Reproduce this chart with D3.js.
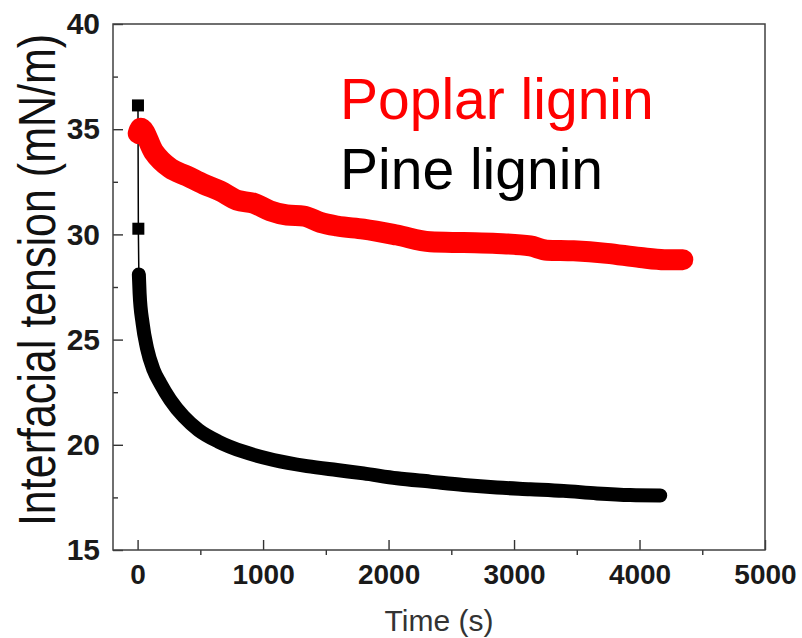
<!DOCTYPE html>
<html>
<head>
<meta charset="utf-8">
<script src="https://cdn.jsdelivr.net/npm/d3@7"></script>
<style>
  html, body { margin: 0; padding: 0; background: #fff; }
  svg { display: block; }
  .axis text { font-family: "Liberation Sans", Arial, sans-serif; font-weight: bold; fill: #1a1a1a; }
  .axis line { stroke: #333; stroke-width: 1.4; }
</style>
</head>
<body>
<svg id="chart" width="802" height="638"></svg>
<script>
// Interfacial tension vs time, two lignin samples
const poplarTime  = [5, 25, 128, 261, 394, 526, 659, 792, 925, 1057, 1190, 1325, 1456, 1589, 1801, 2067, 2332, 2598, 2864, 3129, 3262, 3474, 3740, 4006, 4200, 4345];
const poplarValue = [34.8, 35.05, 33.93, 33.14, 32.78, 32.39, 32.06, 31.63, 31.48, 31.12, 30.92, 30.87, 30.57, 30.40, 30.25, 29.97, 29.65, 29.61, 29.57, 29.45, 29.25, 29.22, 29.10, 28.90, 28.80, 28.80];

const pineTime  = [3, 6, 10, 16, 40, 75, 127, 181, 261, 367, 486, 645, 845, 1084, 1350, 1589, 1801, 2067, 2332, 2598, 2864, 3129, 3394, 3661, 3926, 4165];
const pineValue = [36.13, 30.27, 28.1, 27.2, 25.77, 24.59, 23.56, 22.92, 22.13, 21.34, 20.70, 20.15, 19.67, 19.28, 18.99, 18.80, 18.64, 18.41, 18.25, 18.09, 17.97, 17.89, 17.81, 17.69, 17.61, 17.59];
// the first two pine readings stand apart before the dense run begins
const pineDenseFrom = 2;

const xMajor = [0, 1000, 2000, 3000, 4000, 5000];
const xMinor = [500, 1500, 2500, 3500, 4500];
const yMajor = [15, 20, 25, 30, 35, 40];
const yMinor = [17.5, 22.5, 27.5, 32.5, 37.5];

const seriesNames = ["Poplar lignin", "Pine lignin"];
const seriesColors = ["#ff0000", "#000000"];

const svg = d3.select("#chart");
const plotLeft = 113, plotRight = 765, plotTop = 24, plotBottom = 550;

const x = d3.scaleLinear().domain([-200, 5000]).range([plotLeft - 0.5, plotRight]);
const y = d3.scaleLinear().domain([15, 40]).range([plotBottom, plotTop]);

const pine = pineTime.map((t, i) => ({ t, v: pineValue[i] }));
const poplar = poplarTime.map((t, i) => ({ t, v: poplarValue[i] }));

const line = d3.line().x(d => x(d.t)).y(d => y(d.v)).curve(d3.curveMonotoneX);
const thin = d3.line().x(d => x(d.t)).y(d => y(d.v));

const plot = svg.append("g");

// Pine: thin connecting line, isolated square markers, dense band
plot.append("path")
  .attr("d", thin(pine))
  .attr("fill", "none")
  .attr("stroke", seriesColors[1])
  .attr("stroke-width", 1.5);

plot.selectAll("rect.pine-pt")
  .data(pine.slice(0, pineDenseFrom))
  .join("rect")
  .attr("class", "pine-pt")
  .attr("x", d => x(d.t) - 6)
  .attr("y", d => y(d.v) - 6)
  .attr("width", 12)
  .attr("height", 12)
  .attr("fill", seriesColors[1]);

plot.append("path")
  .attr("d", line(pine.slice(pineDenseFrom)))
  .attr("fill", "none")
  .attr("stroke", seriesColors[1])
  .attr("stroke-width", 14)
  .attr("stroke-linejoin", "round")
  .attr("stroke-linecap", "round");

// Poplar: dense band
plot.append("path")
  .attr("d", line(poplar))
  .attr("fill", "none")
  .attr("stroke", seriesColors[0])
  .attr("stroke-width", 21)
  .attr("stroke-linejoin", "round")
  .attr("stroke-linecap", "round");

// Axes: major ticks point inward, x minor ticks point outward
const gx = svg.append("g").attr("class", "axis").attr("transform", `translate(0,${plotBottom})`);
gx.call(d3.axisBottom(x).tickValues(xMajor).tickSizeInner(-10).tickSizeOuter(0).tickPadding(14).tickFormat(d3.format("d")));
gx.select(".domain").remove();
gx.selectAll("text").attr("font-size", 28);

const gxm = svg.append("g").attr("class", "axis").attr("transform", `translate(0,${plotBottom})`);
gxm.call(d3.axisBottom(x).tickValues(xMinor).tickSizeInner(5).tickSizeOuter(0).tickFormat(""));
gxm.select(".domain").remove();

const gy = svg.append("g").attr("class", "axis").attr("transform", `translate(${plotLeft},0)`);
gy.call(d3.axisLeft(y).tickValues(yMajor).tickSizeInner(-10).tickSizeOuter(0).tickPadding(13).tickFormat(d3.format("d")));
gy.select(".domain").remove();
gy.selectAll("text").attr("font-size", 30);

const gym = svg.append("g").attr("class", "axis").attr("transform", `translate(${plotLeft},0)`);
gym.call(d3.axisLeft(y).tickValues(yMinor).tickSizeInner(-5).tickSizeOuter(0).tickFormat(""));
gym.select(".domain").remove();

// Frame
svg.append("rect")
  .attr("x", plotLeft).attr("y", plotTop)
  .attr("width", plotRight - plotLeft).attr("height", plotBottom - plotTop)
  .attr("fill", "none").attr("stroke", "#404040").attr("stroke-width", 1.5);

// Axis titles
svg.append("text")
  .attr("x", (plotLeft + plotRight) / 2).attr("y", 631)
  .attr("text-anchor", "middle")
  .attr("font-family", "Liberation Sans, Arial, sans-serif")
  .attr("font-size", 30)
  .attr("fill", "#333")
  .text("Time (s)");

svg.append("text")
  .attr("transform", `translate(55,${(plotTop + plotBottom) / 2 - 7}) rotate(-90) scale(1,1.22)`)
  .attr("text-anchor", "middle")
  .attr("font-family", "Liberation Sans, Arial, sans-serif")
  .attr("font-size", 43)
  .attr("fill", "#111")
  .text("Interfacial tension (mN/m)");

// Legend labels
const legendY = [119, 189];
seriesNames.forEach((name, i) => {
  svg.append("text")
    .attr("x", 340).attr("y", legendY[i])
    .attr("font-family", "Liberation Sans, Arial, sans-serif")
    .attr("font-size", 57)
    .attr("fill", seriesColors[i])
    .text(name);
});
</script>
</body>
</html>
